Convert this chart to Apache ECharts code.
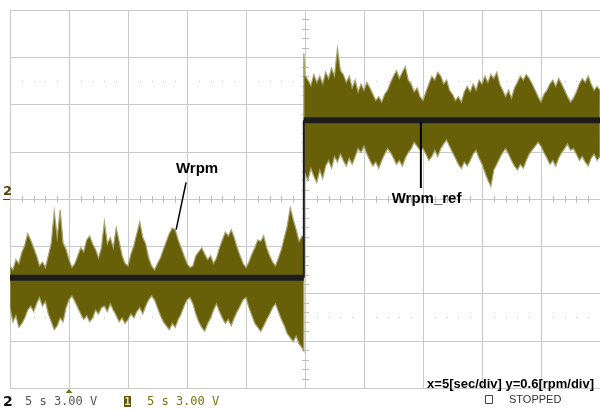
<!DOCTYPE html>
<html>
<head>
<meta charset="utf-8">
<script src="https://cdn.jsdelivr.net/npm/echarts@6/dist/echarts.min.js"></script>
<style>
  html, body { margin: 0; padding: 0; background: #ffffff; }
  #c { width: 600px; height: 410px; }
</style>
</head>
<body>
<div id="c"></div>
<script>
// Measured speed Wrpm before the step: sample times (s) and upper / lower envelope (rpm)
const preTime = [
  0, 0.25, 0.5, 0.75, 1, 1.25, 1.5, 1.75, 2, 2.25, 2.5, 2.75, 3, 3.25, 3.5, 3.75,
  4, 4.25, 4.5, 4.75, 5, 5.25, 5.5, 5.75, 6, 6.25, 6.5, 6.75, 7, 7.25, 7.5, 7.75,
  8, 8.25, 8.5, 8.75, 9, 9.25, 9.5, 9.75, 10, 10.25, 10.5, 10.75, 11, 11.25, 11.5, 11.75,
  12, 12.25, 12.5, 12.75, 13, 13.25, 13.5, 13.75, 14, 14.25, 14.5, 14.75, 15, 15.25, 15.5, 15.75,
  16, 16.25, 16.5, 16.75, 17, 17.25, 17.5, 17.75, 18, 18.25, 18.5, 18.75, 19, 19.25, 19.5, 19.75,
  20, 20.25, 20.5, 20.75, 21, 21.25, 21.5, 21.75, 22, 22.25, 22.5, 22.75, 23, 23.25, 23.5, 23.75,
  24, 24.25, 24.5, 24.75, 24.9];
const preHi = [
  -0.85, -0.90, -0.77, -0.82, -0.68, -0.59, -0.44, -0.52, -0.62, -0.72, -0.85, -0.80, -0.87, -0.72, -0.56, -0.16,
  -0.49, -0.14, -0.56, -0.64, -0.77, -0.87, -0.82, -0.72, -0.62, -0.67, -0.52, -0.47, -0.57, -0.64, -0.75, -0.62,
  -0.29, -0.57, -0.49, -0.62, -0.37, -0.54, -0.72, -0.82, -0.85, -0.70, -0.59, -0.44, -0.29, -0.49, -0.57, -0.75,
  -0.85, -0.90, -0.82, -0.75, -0.64, -0.54, -0.44, -0.37, -0.39, -0.52, -0.62, -0.72, -0.82, -0.87, -0.85, -0.72,
  -0.67, -0.62, -0.70, -0.77, -0.72, -0.82, -0.75, -0.62, -0.52, -0.42, -0.47, -0.39, -0.49, -0.62, -0.72, -0.82,
  -0.87, -0.80, -0.70, -0.62, -0.52, -0.54, -0.47, -0.62, -0.72, -0.80, -0.85, -0.75, -0.64, -0.49, -0.34, -0.11,
  -0.26, -0.39, -0.54, -0.47, -0.49];
const preLo = [
  -1.38, -1.56, -1.48, -1.63, -1.58, -1.51, -1.41, -1.36, -1.43, -1.33, -1.25, -1.36, -1.30, -1.46, -1.56, -1.66,
  -1.61, -1.51, -1.56, -1.38, -1.28, -1.23, -1.30, -1.38, -1.46, -1.53, -1.48, -1.56, -1.51, -1.41, -1.46, -1.38,
  -1.36, -1.43, -1.33, -1.41, -1.48, -1.56, -1.51, -1.58, -1.53, -1.46, -1.51, -1.43, -1.38, -1.46, -1.36, -1.28,
  -1.23, -1.28, -1.38, -1.48, -1.56, -1.61, -1.66, -1.58, -1.63, -1.53, -1.46, -1.36, -1.28, -1.25, -1.33, -1.46,
  -1.56, -1.63, -1.68, -1.58, -1.51, -1.41, -1.33, -1.43, -1.51, -1.58, -1.53, -1.61, -1.51, -1.43, -1.36, -1.28,
  -1.25, -1.38, -1.48, -1.58, -1.63, -1.68, -1.61, -1.53, -1.46, -1.38, -1.33, -1.43, -1.53, -1.61, -1.71, -1.76,
  -1.81, -1.74, -1.84, -1.89, -1.93];

// Measured speed Wrpm after the step
const postTime = [
  24.9, 25, 25.25, 25.5, 25.75, 26, 26.25, 26.5, 26.75, 27, 27.25, 27.5, 27.75, 28, 28.25, 28.5, 28.75,
  29, 29.25, 29.5, 29.75, 30, 30.25, 30.5, 30.75, 31, 31.25, 31.5, 31.75, 32, 32.25, 32.5, 32.75,
  33, 33.25, 33.5, 33.75, 34, 34.25, 34.5, 34.75, 35, 35.25, 35.5, 35.75, 36, 36.25, 36.5, 36.75,
  37, 37.25, 37.5, 37.75, 38, 38.25, 38.5, 38.75, 39, 39.25, 39.5, 39.75, 40, 40.25, 40.5, 40.75,
  41, 41.25, 41.5, 41.75, 42, 42.25, 42.5, 42.75, 43, 43.25, 43.5, 43.75, 44, 44.25, 44.5, 44.75,
  45, 45.25, 45.5, 45.75, 46, 46.25, 46.5, 46.75, 47, 47.25, 47.5, 47.75, 48, 48.25, 48.5, 48.75,
  49, 49.25, 49.5, 49.75, 50];
const postHi = [
  1.85, 1.57, 1.51, 1.44, 1.58, 1.48, 1.56, 1.46, 1.61, 1.53, 1.66, 1.56, 1.91, 1.63, 1.58, 1.48, 1.56,
  1.41, 1.51, 1.36, 1.46, 1.38, 1.48, 1.41, 1.33, 1.25, 1.30, 1.23, 1.33, 1.38, 1.48, 1.56, 1.63,
  1.53, 1.61, 1.68, 1.51, 1.46, 1.36, 1.41, 1.30, 1.25, 1.36, 1.46, 1.56, 1.51, 1.61, 1.56, 1.46,
  1.51, 1.38, 1.33, 1.25, 1.30, 1.23, 1.36, 1.43, 1.36, 1.46, 1.38, 1.51, 1.46, 1.56, 1.48, 1.58,
  1.53, 1.61, 1.46, 1.38, 1.30, 1.38, 1.28, 1.41, 1.48, 1.56, 1.51, 1.58, 1.53, 1.46, 1.38, 1.30,
  1.23, 1.33, 1.38, 1.46, 1.51, 1.43, 1.53, 1.46, 1.38, 1.30, 1.23, 1.28, 1.36, 1.46, 1.53, 1.48,
  1.56, 1.46, 1.38, 1.43, 1.38];
const postLo = [
  0.24, 0.32, 0.24, 0.39, 0.29, 0.21, 0.37, 0.26, 0.42, 0.49, 0.39, 0.54, 0.47, 0.57, 0.49, 0.42, 0.52,
  0.44, 0.54, 0.64, 0.59, 0.67, 0.57, 0.49, 0.42, 0.47, 0.39, 0.49, 0.57, 0.64, 0.59, 0.52, 0.44,
  0.49, 0.42, 0.52, 0.59, 0.64, 0.72, 0.67, 0.62, 0.64, 0.57, 0.49, 0.54, 0.62, 0.54, 0.64, 0.70,
  0.75, 0.67, 0.59, 0.52, 0.44, 0.39, 0.47, 0.42, 0.49, 0.57, 0.62, 0.52, 0.44, 0.34, 0.24, 0.16,
  0.37, 0.44, 0.52, 0.59, 0.64, 0.57, 0.49, 0.42, 0.37, 0.44, 0.39, 0.49, 0.57, 0.62, 0.67, 0.72,
  0.67, 0.59, 0.52, 0.44, 0.49, 0.42, 0.52, 0.59, 0.64, 0.70, 0.62, 0.64, 0.57, 0.49, 0.54, 0.47,
  0.42, 0.52, 0.57, 0.49, 0.54];

// Reference speed Wrpm_ref: a step from -1 to +1 rpm
const refTime = [0, 24.9, 24.9, 50];
const refValue = [-1, -1, 1, 1];

// Scope settings
const xMin = 0, xMax = 50, xDiv = 5;        // 5 s/div
const yMin = -2.4, yMax = 2.4, yDiv = 0.6;  // 0.6 rpm/div

const GRID = '#c9c9c9';
const TRACE = '#676008';
const TRACE_EDGE = '#a7a26e';
const REF = '#1c1c1c';

const chart = echarts.init(document.getElementById('c'), null, { renderer: 'canvas' });

function bandSeries(time, hi, lo) {
  const rows = time.map((t, i) => [t, lo[i], hi[i]]);
  return {
    type: 'custom',
    data: rows,
    clip: true,
    z: 3,
    silent: true,
    encode: { x: 0, y: [1, 2] },
    renderItem(params, api) {
      if (params.dataIndex !== 0) return null;
      const pts = [];
      for (let i = 0; i < rows.length; i++) pts.push(api.coord([rows[i][0], rows[i][2]]));
      for (let i = rows.length - 1; i >= 0; i--) pts.push(api.coord([rows[i][0], rows[i][1]]));
      return {
        type: 'polygon',
        shape: { points: pts },
        style: { fill: TRACE, stroke: TRACE_EDGE, lineWidth: 1.2, lineJoin: 'miter' }
      };
    }
  };
}

// reference trace: thick horizontal runs, thin vertical edge
const refSeries = [];
for (let i = 0; i < refTime.length - 1; i++) {
  const vertical = refTime[i] === refTime[i + 1];
  refSeries.push({
    type: 'line',
    data: [[refTime[i], refValue[i]], [refTime[i + 1], refValue[i + 1]]],
    symbol: 'none',
    silent: true,
    z: vertical ? 5 : 4,
    lineStyle: { color: REF, width: vertical ? 2 : 6, cap: 'butt' }
  });
}

chart.setOption({
  animation: false,
  backgroundColor: '#ffffff',
  grid: { left: 10, top: 10, width: 593, height: 378, containLabel: false },
  xAxis: {
    type: 'value', min: xMin, max: xMax, interval: xDiv,
    axisLabel: { show: false }, axisTick: { show: false },
    axisLine: { show: true, onZero: false, lineStyle: { color: GRID, width: 1 } },
    splitLine: { show: true, lineStyle: { color: GRID, width: 1 } }
  },
  yAxis: {
    type: 'value', min: yMin, max: yMax, interval: yDiv,
    axisLabel: { show: false }, axisTick: { show: false },
    axisLine: { show: true, onZero: false, lineStyle: { color: GRID, width: 1 } },
    splitLine: { show: true, lineStyle: { color: GRID, width: 1 } }
  },
  series: [bandSeries(preTime, preHi, preLo), bandSeries(postTime, postHi, postLo)].concat(refSeries)
});

// ---- overlay: centre-axis minor ticks, dotted level lines, annotations, status bar ----
const px = (x, y) => chart.convertToPixel({ gridIndex: 0 }, [x, y]);
const g = [];
const TICK = '#bdbdbd';

const xc = (xMin + xMax) / 2;
for (let k = 1; k < (xMax - xMin); k++) {
  const t = xMin + k;
  if (k % xDiv === 0) continue;
  const p = px(t, 0);
  g.push({ type: 'line', z: 1, shape: { x1: Math.round(p[0]) + 0.5, y1: p[1] - 3, x2: Math.round(p[0]) + 0.5, y2: p[1] + 4 }, style: { stroke: TICK, lineWidth: 1 } });
  // dotted level lines at +/- 2.5 div
  [1.5, -1.5].forEach(v => {
    const q = px(t, v);
    g.push({ type: 'rect', z: 1, shape: { x: Math.round(q[0]), y: Math.round(q[1]), width: 1, height: 1 }, style: { fill: TICK } });
  });
}
for (let k = 1; k < 40; k++) {
  if (k % 5 === 0) continue;
  const v = yMin + k * yDiv / 5;
  const p = px(xc, v);
  g.push({ type: 'line', z: 1, shape: { x1: p[0] - 3, y1: Math.round(p[1]) + 0.5, x2: p[0] + 4, y2: Math.round(p[1]) + 0.5 }, style: { stroke: TICK, lineWidth: 1 } });
}

// Wrpm annotation
const a1 = px(14.92, 0.21), a2 = px(14.08, -0.39), at = px(15.85, 0.38);
g.push({ type: 'line', z: 10, shape: { x1: a1[0], y1: a1[1], x2: a2[0], y2: a2[1] }, style: { stroke: '#000', lineWidth: 1.5 } });
g.push({ type: 'text', z: 10, x: at[0], y: at[1], style: { text: 'Wrpm', font: 'bold 15px "Liberation Sans", Arial, sans-serif', fill: '#000', align: 'center', verticalAlign: 'middle' } });

// Wrpm_ref annotation
const b1 = px(34.82, 0.97), b2 = px(34.82, 0.14), bt = px(35.3, 0.0);
g.push({ type: 'line', z: 10, shape: { x1: b1[0], y1: b1[1], x2: b2[0], y2: b2[1] }, style: { stroke: '#000', lineWidth: 2 } });
g.push({ type: 'text', z: 10, x: bt[0], y: bt[1], style: { text: 'Wrpm_ref', font: 'bold 15px "Liberation Sans", Arial, sans-serif', fill: '#000', align: 'center', verticalAlign: 'middle' } });

// scale legend inside the screen
g.push({ type: 'text', z: 10, x: 594, y: 384, style: { text: 'x=5[sec/div] y=0.6[rpm/div]', font: 'bold 13px "Liberation Sans", Arial, sans-serif', fill: '#000', align: 'right', verticalAlign: 'middle' } });

// channel 2 ground marker on the left edge
const gnd = px(xMin, 0);
g.push({ type: 'text', z: 10, x: 3, y: gnd[1] - 7, style: { text: '2', font: 'bold 13px "DejaVu Sans", sans-serif', fill: '#4d4808', align: 'left', verticalAlign: 'middle' } });
g.push({ type: 'line', z: 10, shape: { x1: 3, y1: gnd[1] + 0.5, x2: 10, y2: gnd[1] + 0.5 }, style: { stroke: '#4d4808', lineWidth: 1 } });

// trigger marker below the screen
const trig = px(5, yMin);
g.push({ type: 'polygon', z: 10, shape: { points: [[trig[0] - 3.5, trig[1] + 5], [trig[0] + 3.5, trig[1] + 5], [trig[0], trig[1] + 1]] }, style: { fill: '#7a7212' } });

// status bar
const mono = '12px "DejaVu Sans Mono", monospace';
g.push({ type: 'text', z: 10, x: 3, y: 402, style: { text: '2', font: 'bold 14px "DejaVu Sans", sans-serif', fill: '#111', verticalAlign: 'middle' } });
g.push({ type: 'text', z: 10, x: 25, y: 402, style: { text: '5 s 3.00 V', font: mono, fill: '#555', verticalAlign: 'middle' } });
g.push({ type: 'rect', z: 10, shape: { x: 124, y: 396, width: 7, height: 11 }, style: { fill: '#5e5808' } });
g.push({ type: 'text', z: 11, x: 127.5, y: 402, style: { text: '1', font: 'bold 10px "DejaVu Sans Mono", monospace', fill: '#e8e4c0', align: 'center', verticalAlign: 'middle' } });
g.push({ type: 'text', z: 10, x: 147, y: 402, style: { text: '5 s 3.00 V', font: mono, fill: '#7a7212', verticalAlign: 'middle' } });
g.push({ type: 'rect', z: 10, shape: { x: 485.5, y: 395.5, width: 7, height: 8 }, style: { fill: 'none', stroke: '#444', lineWidth: 1 } });
g.push({ type: 'text', z: 10, x: 509, y: 400, style: { text: 'STOPPED', font: '11px "Liberation Sans", Arial, sans-serif', fill: '#333', verticalAlign: 'middle' } });

chart.setOption({ graphic: { elements: g } });
</script>
</body>
</html>
